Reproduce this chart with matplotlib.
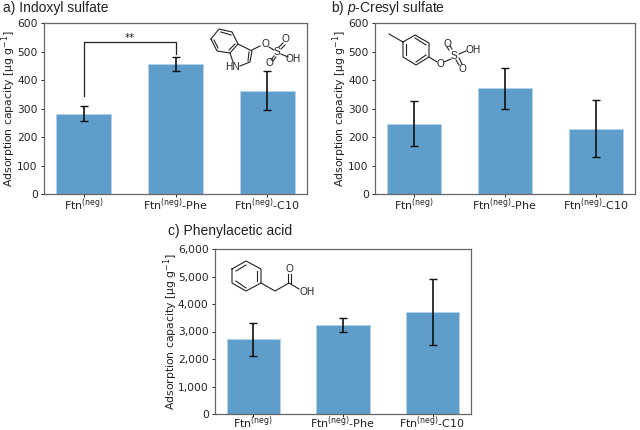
import matplotlib
matplotlib.use("Agg")
import matplotlib.pyplot as plt
from matplotlib.lines import Line2D

W, H = 640, 430
plt.rcParams['font.family'] = 'DejaVu Sans'
plt.rcParams['mathtext.fontset'] = 'custom'
plt.rcParams['mathtext.rm'] = 'DejaVu Sans'
plt.rcParams['mathtext.it'] = 'Liberation Sans:italic'

groups = ['Ftn$^{\\mathregular{(neg)}}$', 'Ftn$^{\\mathregular{(neg)}}$-Phe', 'Ftn$^{\\mathregular{(neg)}}$-C10']
indoxyl = [283, 458, 363]
indoxyl_err = [25, 25, 69]
cresyl = [247, 372, 230]
cresyl_err = [79, 72, 100]
phenyl = [2710, 3230, 3700]
phenyl_err = [610, 260, 1200]
ylabel = 'Adsorption capacity [µg g$^{-1}$]'
GRAY = '#666666'

fig = plt.figure(figsize=(W/100, H/100), dpi=100)

def make_axes(box, vals, errs, ymax, ticks, fmt, title, title_xy, label_x, xpad):
    l, t, r, b = box
    ax = fig.add_axes([l/W, 1-b/H, (r-l)/W, (b-t)/H])
    ax.bar(range(3), vals, width=0.6, color='#5f9dca', edgecolor='#b5d3e8', linewidth=0.6)
    ax.errorbar(range(3), vals, yerr=errs, fmt='none', ecolor='#111111', elinewidth=1.2, capsize=3, capthick=1)
    ax.set_xlim(-0.43, 2.43)
    ax.set_ylim(0, ymax)
    ax.set_yticks(ticks)
    ax.set_yticklabels([fmt.format(v) for v in ticks])
    ax.set_xticks(range(3))
    ax.set_xticklabels(groups)
    ax.tick_params(axis='y', labelsize=7.7, length=2.5, width=0.7, pad=2, colors='#222222')
    ax.tick_params(axis='x', labelsize=8, length=2.5, width=0.7, pad=xpad, colors='#222222')
    ax.set_ylabel(ylabel, fontsize=7.8, color='#222222')
    ax.yaxis.set_label_coords((label_x-l)/(r-l), 0.5)
    for s in ax.spines.values():
        s.set_color(GRAY)
        s.set_linewidth(0.9)
    fig.text(title_xy[0]/W, 1-title_xy[1]/H, title, fontsize=10, family='Liberation Sans',
             va='center', ha='left', color='#222222')
    return ax

ax_a = make_axes((44, 23.5, 307, 194), indoxyl, indoxyl_err, 600, [0,100,200,300,400,500,600], '{:d}', 'a) Indoxyl sulfate', (3, 8), 18.5, -1)
ax_b = make_axes((375, 23.5, 635, 194), cresyl, cresyl_err, 600, [0,100,200,300,400,500,600], '{:d}', 'b) $\\mathit{p}$-Cresyl sulfate', (331, 8), 349, -1)
ax_c = make_axes((215, 249, 471, 414), phenyl, phenyl_err, 6000, [0,1000,2000,3000,4000,5000,6000], '{:,d}', 'c) Phenylacetic acid', (168, 231), 180, -2)

# significance bracket
ax_a.plot([0, 0, 1, 1], [346, 536, 536, 494], color='#222222', lw=0.9)
ax_a.text(0.5, 530, '**', ha='center', va='bottom', fontsize=7.5, color='#222222')

def seg(pts, lw=0.8):
    xs = [p[0]/W for p in pts]
    ys = [1-p[1]/H for p in pts]
    fig.add_artist(Line2D(xs, ys, color='#222222', lw=lw, transform=fig.transFigure, zorder=5))

def atom(x, y, s):
    fig.text(x/W, 1-y/H, s, fontsize=7.3, family='Liberation Sans', ha='center', va='center', color='#222222', zorder=6)

# Indoxyl sulfate structure
seg([(211,39),(219,29),(232,32),(238,44),(230,53),(217,51),(211,39)])
seg([(221,32),(231,35)]); seg([(235,44),(229,50)]); seg([(218,48),(214,40)])
seg([(238,44),(252,51),(250,62),(240,66)])
seg([(249,52),(248,61)])
seg([(230,53),(233,62)])
seg([(252,50),(260,46)])
seg([(269,47),(274,50)]); seg([(279,47),(283,43)]); seg([(281,49),(285,45)])
seg([(274,56),(271,60)]); seg([(276,57),(273,61)]); seg([(281,54),(288,57)])
atom(233,67,'HN'); atom(265,44,'O'); atom(277,52,'S'); atom(285,39,'O'); atom(269,63,'O'); atom(293,59,'OH')

# p-Cresyl sulfate structure
seg([(389,34),(403,42)])
seg([(403,42),(415,35),(429,43),(429,57),(416,65),(403,57),(403,42)])
seg([(415,38),(426,45)]); seg([(426,55),(416,62)]); seg([(406,55),(406,44)])
seg([(429,57),(437,62)])
seg([(444,62),(451,59)]); seg([(449,50),(447,47)]); seg([(452,49),(450,46)])
seg([(456,60),(459,65)]); seg([(459,58),(462,64)]); seg([(459,54),(466,51)])
atom(440,64,'O'); atom(454,56,'S'); atom(447,44,'O'); atom(462,69,'O'); atom(473,50,'OH')

# Phenylacetic acid structure
seg([(232,269),(246,261),(261,269),(261,283),(246,291),(232,283),(232,269)])
seg([(236,271),(246,265)]); seg([(257,271),(257,281)]); seg([(236,281),(246,288)])
seg([(261,283),(275,291),(289,283),(299,289)])
seg([(288,283),(288,274)]); seg([(291,283),(291,274)])
atom(289,269,'O'); atom(307,292,'OH')

fig.savefig('out.png', dpi=100)
